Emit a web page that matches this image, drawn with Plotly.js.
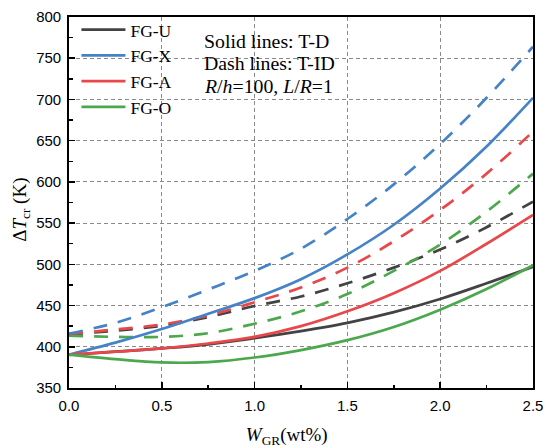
<!DOCTYPE html>
<html>
<head>
<meta charset="utf-8">
<script src="https://cdn.plot.ly/plotly-3.0.1.min.js"></script>
<style>html,body{margin:0;padding:0;background:#fff;}#chart{width:550px;height:448px;}</style>
</head>
<body>
<div id="chart"></div>
<script>
// W_GR (wt%)
var wGR = [0, 0.25, 0.5, 0.75, 1.0, 1.25, 1.5, 1.75, 2.0, 2.25, 2.5];

// T-D theory (solid lines), Delta T_cr (K)
var U_TD = [390, 394, 398, 403, 410.5, 419, 429, 442, 458, 477, 497];
var X_TD = [390.5, 405, 421.5, 440, 459, 482, 512, 548, 592, 643, 702];
var A_TD = [390.5, 394, 398, 404, 412, 425, 443, 465, 492, 525, 560];
var O_TD = [390.5, 385, 381, 381.5, 387, 396, 408, 424, 445, 470, 499];

// T-ID theory (dash lines), Delta T_cr (K)
var U_TID = [415, 419.5, 425.5, 436, 449.5, 461, 477, 496, 518, 545, 576];
var X_TID = [416, 429, 448, 469.5, 492, 519, 555, 597, 646, 702, 764];
var A_TID = [415.5, 421, 427, 438, 454, 472, 496, 528, 566, 610, 661];
var O_TID = [413.5, 412, 412, 416.5, 428, 443, 464, 492, 524, 564, 610];

var names = ['FG-U', 'FG-X', 'FG-A', 'FG-O'];
var colors = ['#434343', '#4683c6', '#e9474a', '#4ca84c'];
var solidSeries = [U_TD, X_TD, A_TD, O_TD];
var dashSeries = [U_TID, X_TID, A_TID, O_TID];

var annLines = ['Solid lines: T-D', 'Dash lines: T-ID', '<i>R</i>/<i>h</i>=100, <i>L</i>/<i>R</i>=1'];

var traces = [];
// dashed first (drawn beneath)
var dashOrder = [0, 3, 2, 1];
dashOrder.forEach(function (i) {
  traces.push({
    x: wGR, y: dashSeries[i], type: 'scatter', mode: 'lines',
    line: {color: colors[i], width: 2.7, dash: '14px,11px', shape: 'spline', smoothing: 1.0},
    showlegend: false, hoverinfo: 'skip'
  });
});
var solidOrder = [0, 1, 2, 3];
solidOrder.forEach(function (i) {
  traces.push({
    x: wGR, y: solidSeries[i], type: 'scatter', mode: 'lines', name: names[i],
    line: {color: colors[i], width: 2.7, shape: 'spline', smoothing: 1.0},
    showlegend: true
  });
});

var serif = 'Liberation Serif, Times New Roman, serif';
var sans = 'Liberation Sans, Arial, sans-serif';

var anns = annLines.map(function (t, k) {
  return {
    text: t, xref: 'paper', yref: 'paper', x: 0.286, y: [0.936, 0.876, 0.814][k],
    xanchor: 'left', yanchor: 'middle', showarrow: false,
    font: {family: serif, size: 19.8, color: '#000'}
  };
});

var layout = {
  width: 550, height: 448,
  margin: {l: 69, r: 17, t: 15, b: 60},
  paper_bgcolor: '#fff', plot_bgcolor: '#fff',
  showlegend: true,
  legend: {
    x: 0.016, y: 1.014, xanchor: 'left', yanchor: 'top',
    bgcolor: 'rgba(0,0,0,0)', borderwidth: 0,
    font: {family: serif, size: 17.5, color: '#000'},
    itemwidth: 44, tracegroupgap: 0
  },
  xaxis: {
    range: [0, 2.5], dtick: 0.5, tick0: 0, tickformat: '.1f',
    showline: true, linecolor: '#000', linewidth: 1.8, mirror: true,
    ticks: 'inside', ticklen: 6, tickwidth: 1.5, tickcolor: '#000',
    minor: {ticks: 'inside', ticklen: 3.5, tickwidth: 1.5, dtick: 0.25, tickcolor: '#000', showgrid: false},
    showgrid: true, gridcolor: '#8a8a8a', gridwidth: 1, griddash: '4px,3px',
    zeroline: false, ticklabelstandoff: 3,
    tickfont: {family: sans, size: 15, color: '#000'},
    title: {text: '<i>W</i><sub>GR</sub>(wt%)&nbsp;&nbsp;&nbsp;&nbsp;&nbsp;&nbsp;', font: {family: serif, size: 19, color: '#000'}, standoff: 19}
  },
  yaxis: {
    range: [350, 800], dtick: 50, tick0: 350,
    showline: true, linecolor: '#000', linewidth: 1.8, mirror: true,
    ticks: 'inside', ticklen: 6, tickwidth: 1.5, tickcolor: '#000',
    minor: {ticks: 'inside', ticklen: 3.5, tickwidth: 1.5, dtick: 25, tickcolor: '#000', showgrid: false},
    showgrid: true, gridcolor: '#8a8a8a', gridwidth: 1, griddash: '4px,3px',
    zeroline: false, ticklabelstandoff: 3,
    tickfont: {family: sans, size: 15, color: '#000'},
    title: {text: 'Δ<i>T</i><sub>cr</sub> (K)&nbsp;&nbsp;&nbsp;', font: {family: serif, size: 19, color: '#000'}, standoff: 4}
  },
  annotations: anns
};

Plotly.newPlot('chart', traces, layout, {displayModeBar: false, staticPlot: true});
</script>
</body>
</html>
